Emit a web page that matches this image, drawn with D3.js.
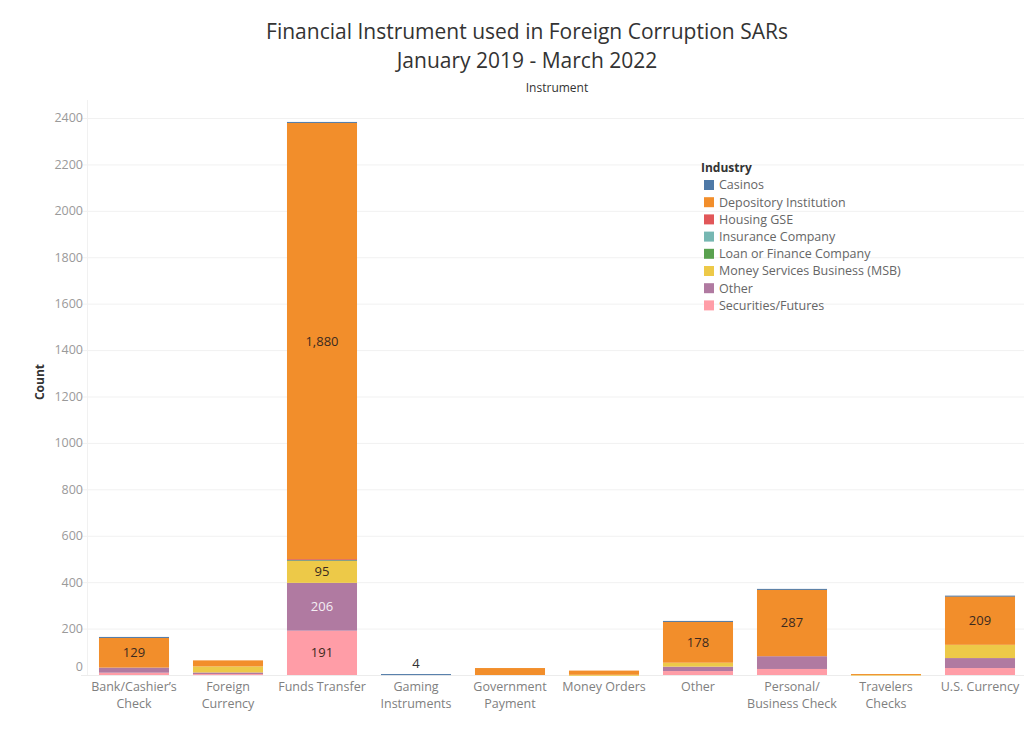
<!DOCTYPE html>
<html><head><meta charset="utf-8">
<script src="https://cdn.jsdelivr.net/npm/d3@7"></script>
<style>
body{margin:0;background:#fff;}
text{font-family:"Open Sans","Noto Sans",sans-serif;}
</style></head>
<body><svg id="c" width="1024" height="731"></svg>
<script>
const categories = ["Bank/Cashier\u2019s Check","Foreign Currency","Funds Transfer","Gaming Instruments","Government Payment","Money Orders","Other","Personal/ Business Check","Travelers Checks","U.S. Currency"];
const categoryLines = [["Bank/Cashier\u2019s","Check"],["Foreign","Currency"],["Funds Transfer"],["Gaming","Instruments"],["Government","Payment"],["Money Orders"],["Other"],["Personal/","Business Check"],["Travelers","Checks"],["U.S. Currency"]];
const industries = ["Casinos","Depository Institution","Housing GSE","Insurance Company","Loan or Finance Company","Money Services Business (MSB)","Other","Securities/Futures"];
const colors = ["#4e79a7","#f28e2b","#e15759","#76b7b2","#59a14f","#edc948","#b07aa1","#ff9da7"];
// values per industry, aligned with categories
const casinos      = [3, 0, 4, 4, 0, 0, 2, 3, 0, 3];
const depository   = [129, 26, 1880, 0, 30, 18, 178, 287, 2, 209];
const housingGSE   = [0, 0, 2, 0, 0, 0, 0, 0, 0, 0];
const insurance    = [0, 0, 1, 0, 0, 0, 0, 0, 0, 0];
const loanFinance  = [0, 0, 4, 0, 0, 0, 0, 0, 0, 0];
const msb          = [0, 26, 95, 0, 0, 1, 17, 0, 2, 57];
const otherInd     = [22, 7, 206, 0, 0, 0, 19, 55, 0, 43];
const securities   = [10, 4, 191, 0, 0, 0, 17, 26, 0, 30];
const yTicks = [0,200,400,600,800,1000,1200,1400,1600,1800,2000,2200,2400];
const labelAboveCats = ["Gaming Instruments"];

const seriesValues = [casinos, depository, housingGSE, insurance, loanFinance, msb, otherInd, securities];
const stackOrder = [7,6,5,4,3,2,1,0]; // bottom to top: Securities ... Casinos

const svg = d3.select("#c");
const padL = 87, padR = 1027, padT = 100, padB = 675;

const x = d3.scaleBand().domain(categories).range([padL, padR]).paddingInner(0.255).paddingOuter(0.1275);
const y = d3.scaleLinear().domain([0, 2400]).range([padB, 118]);

// gridlines
svg.append("g").selectAll("line").data(yTicks).join("line")
  .attr("x1", padL - 6).attr("x2", 1024)
  .attr("y1", d => y(d) + 0.5).attr("y2", d => y(d) + 0.5)
  .attr("stroke", d => d === 0 ? "#ececec" : "#f1f1f1").attr("stroke-width", 1);
svg.append("line").attr("x1", padL + 0.5).attr("x2", padL + 0.5).attr("y1", padT).attr("y2", padB)
  .attr("stroke", "#f1f1f1");

// y tick labels
svg.append("g").selectAll("text").data(yTicks).join("text")
  .attr("x", padL - 4).attr("y", d => d === 0 ? y(d) - 8 : y(d))
  .attr("dy", "0.35em").attr("text-anchor", "end")
  .attr("font-size", 12.5).attr("fill", "#9a9a9a").text(d => d);

// stacked data
const rows = categories.map((c, i) => {
  const r = {cat: c};
  industries.forEach((ind, k) => r[ind] = seriesValues[k][i]);
  return r;
});
const stack = d3.stack().keys(stackOrder.map(k => industries[k]));
const stacked = stack(rows);

const g = svg.append("g");
stacked.forEach(layer => {
  const k = industries.indexOf(layer.key);
  g.selectAll(null).data(layer.filter(d => d[1] - d[0] > 0)).join("rect")
    .attr("x", d => x(d.data.cat)).attr("width", x.bandwidth())
    .attr("y", d => y(d[1])).attr("height", d => Math.max(1, y(d[0]) - y(d[1])))
    .attr("fill", colors[k]);
});
// labels
stacked.forEach(layer => {
  layer.forEach(d => {
    const v = d[1] - d[0];
    const h = y(d[0]) - y(d[1]);
    if (h >= 18) {
      g.append("text").attr("x", x(d.data.cat) + x.bandwidth() / 2)
        .attr("y", (y(d[0]) + y(d[1])) / 2).attr("dy", "0.35em")
        .attr("text-anchor", "middle").attr("font-size", 13)
        .attr("fill", layer.key === "Other" ? "#f4eef4" : "#3b2a20")
        .text(d3.format(",")(v));
    }
  });
});
labelAboveCats.forEach(c => {
  const i = categories.indexOf(c);
  const total = seriesValues.reduce((s, arr) => s + arr[i], 0);
  g.append("text").attr("x", x(c) + x.bandwidth() / 2).attr("y", y(total) - 6)
    .attr("text-anchor", "middle").attr("font-size", 13).attr("fill", "#333").text(total);
});

// x labels
categories.forEach((c, i) => {
  const t = svg.append("text").attr("text-anchor", "middle").attr("font-size", 12.5).attr("fill", "#808080");
  categoryLines[i].forEach((ln, j) => {
    t.append("tspan").attr("x", x(c) + x.bandwidth() / 2).attr("y", 691 + j * 17).text(ln);
  });
});

// titles
svg.append("text").attr("x", 527).attr("y", 39).attr("text-anchor", "middle")
  .attr("font-size", 21).attr("fill", "#333").text("Financial Instrument used in Foreign Corruption SARs");
svg.append("text").attr("x", 527).attr("y", 68).attr("text-anchor", "middle")
  .attr("font-size", 21).attr("fill", "#333").text("January 2019 - March 2022");
svg.append("text").attr("x", 557).attr("y", 92).attr("text-anchor", "middle")
  .attr("font-size", 12).attr("fill", "#333").text("Instrument");
svg.append("text").attr("transform", "translate(44,382) rotate(-90)").attr("text-anchor", "middle")
  .attr("font-size", 12).attr("font-weight", "bold").attr("fill", "#333").text("Count");

// legend
const lg = svg.append("g").attr("transform", "translate(701,0)");
lg.append("text").attr("x", 0).attr("y", 172).attr("font-size", 12).attr("font-weight", "bold").attr("fill", "#333").text("Industry");
industries.forEach((ind, k) => {
  const yy = 185 + k * 17.2;
  lg.append("rect").attr("x", 3).attr("y", yy - 5).attr("width", 10).attr("height", 10).attr("fill", colors[k]);
  lg.append("text").attr("x", 18).attr("y", yy).attr("dy", "0.35em").attr("font-size", 12.5).attr("fill", "#666").text(ind);
});
</script></body></html>
